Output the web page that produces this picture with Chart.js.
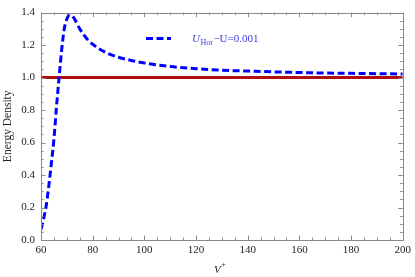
<!DOCTYPE html>
<html><head><meta charset="utf-8">
<script src="https://cdn.jsdelivr.net/npm/chart.js@4.4.1/dist/chart.umd.min.js"></script>
<style>html,body{margin:0;padding:0;background:#fff}#c{display:block}</style>
</head><body>
<canvas id="c" width="415" height="277"></canvas>
<script>
const vPlus  = [60,61,62,63,64,65,66,67,68,69,70,71,72,73,75,78,80,85,90,95,100,110,120,130,140,150,160,170,180,190,200];
const energy = [0.066,0.13,0.21,0.33,0.47,0.62,0.82,1.0,1.17,1.30,1.36,1.383,1.38,1.36,1.30,1.235,1.205,1.155,1.125,1.105,1.09,1.068,1.055,1.045,1.04,1.035,1.031,1.028,1.026,1.024,1.022];
const refX = [60,200];
const refY = [1.0,1.0];
const xTicks = [60,80,100,120,140,160,180,200];
const yTicks = [0.0,0.2,0.4,0.6,0.8,1.0,1.2,1.4];
const legendLabel = "U_Hor\u2212U=0.001";

const SERIF = "'Liberation Serif','DejaVu Serif',serif";
const FRAME = '#8a8a8a';

const framePlugin = {
  id: 'frame',
  afterDraw(chart) {
    const ctx = chart.ctx, a = chart.chartArea, xs = chart.scales.x, ys = chart.scales.y;
    ctx.save();
    ctx.strokeStyle = FRAME; ctx.lineWidth = 1;
    ctx.strokeRect(Math.round(a.left)+0.5, Math.round(a.top)+0.5, Math.round(a.right-a.left), Math.round(a.bottom-a.top));
    ctx.beginPath();
    for (let v = 60; v <= 200.001; v += 5) {
      const major = Math.abs(v % 20) < 1e-6;
      const L = major ? 4.5 : 2.5;
      const px = Math.round(xs.getPixelForValue(v)) + 0.5;
      ctx.moveTo(px, a.bottom); ctx.lineTo(px, a.bottom - L);
      ctx.moveTo(px, a.top); ctx.lineTo(px, a.top + L);
    }
    for (let i = 0; i <= 28; i++) {
      const v = i * 0.05;
      const major = i % 4 === 0;
      const L = major ? 4.5 : 2.5;
      const py = Math.round(ys.getPixelForValue(v)) + 0.5;
      ctx.moveTo(a.left, py); ctx.lineTo(a.left + L, py);
      ctx.moveTo(a.right, py); ctx.lineTo(a.right - L, py);
    }
    ctx.stroke();

    // legend
    ctx.strokeStyle = '#0000ff'; ctx.lineWidth = 3; ctx.setLineDash([7,3.5]);
    ctx.beginPath(); ctx.moveTo(146, 38.5); ctx.lineTo(171, 38.5); ctx.stroke();
    ctx.setLineDash([]);
    ctx.fillStyle = '#3a3ae0'; ctx.textBaseline = 'alphabetic'; ctx.textAlign = 'left';
    const parts = legendLabel.split('_');
    let x = 192;
    ctx.font = "italic 11px " + SERIF;
    ctx.fillText(parts[0], x, 42); x += ctx.measureText(parts[0]).width + 0.5;
    const sub = parts[1].slice(0,3), rest = parts[1].slice(3);
    ctx.font = "8px " + SERIF;
    ctx.fillText(sub, x, 44.5); x += ctx.measureText(sub).width + 0.5;
    ctx.font = "11px " + SERIF;
    ctx.fillText(rest, x, 42);

    // x title
    ctx.fillStyle = '#222';
    ctx.font = "italic 11px " + SERIF;
    ctx.fillText('V', 214, 273);
    const w = ctx.measureText('V').width;
    ctx.font = "8px " + SERIF;
    ctx.fillText('+', 214 + w + 0.5, 267);
    ctx.restore();
  }
};

new Chart(document.getElementById('c'), {
  type: 'line',
  data: {
    datasets: [
      {
        data: vPlus.map((v,i)=>({x:v, y:energy[i]})),
        borderColor: '#0000ff', borderWidth: 3, borderDash: [7,3.5],
        pointRadius: 0, fill: false, cubicInterpolationMode: 'monotone'
      },
      {
        data: refX.map((v,i)=>({x:v, y:refY[i]})),
        borderColor: '#b01010', borderWidth: 3, pointRadius: 0, fill: false
      }
    ]
  },
  options: {
    responsive: false, animation: false, devicePixelRatio: 1,
    layout: { padding: { top: 7, right: 8, left: 0, bottom: 0 } },
    plugins: { legend: { display: false }, tooltip: { enabled: false } },
    scales: {
      x: {
        type: 'linear', min: 60, max: 200,
        afterBuildTicks: s => { s.ticks = xTicks.map(v => ({value: v})); },
        afterFit: s => { s.height = 37; },
        grid: { display: false, drawTicks: false },
        border: { display: false },
        ticks: { padding: 4, color: '#222', font: { family: SERIF, size: 11 }, maxRotation: 0,
                 callback: v => String(v) }
      },
      y: {
        type: 'linear', min: 0, max: 1.4,
        afterBuildTicks: s => { s.ticks = yTicks.map(v => ({value: v})); },
        afterFit: s => { s.width = 41; },
        grid: { display: false, drawTicks: false },
        border: { display: false },
        ticks: { padding: 6, color: '#222', font: { family: SERIF, size: 11 },
                 callback: v => Number(v).toFixed(1) },
        title: { display: true, text: 'Energy Density', color: '#222',
                 font: { family: SERIF, size: 11.5 }, padding: { top: 1, bottom: 0 } }
      }
    }
  },
  plugins: [framePlugin]
});
</script>
</body></html>
